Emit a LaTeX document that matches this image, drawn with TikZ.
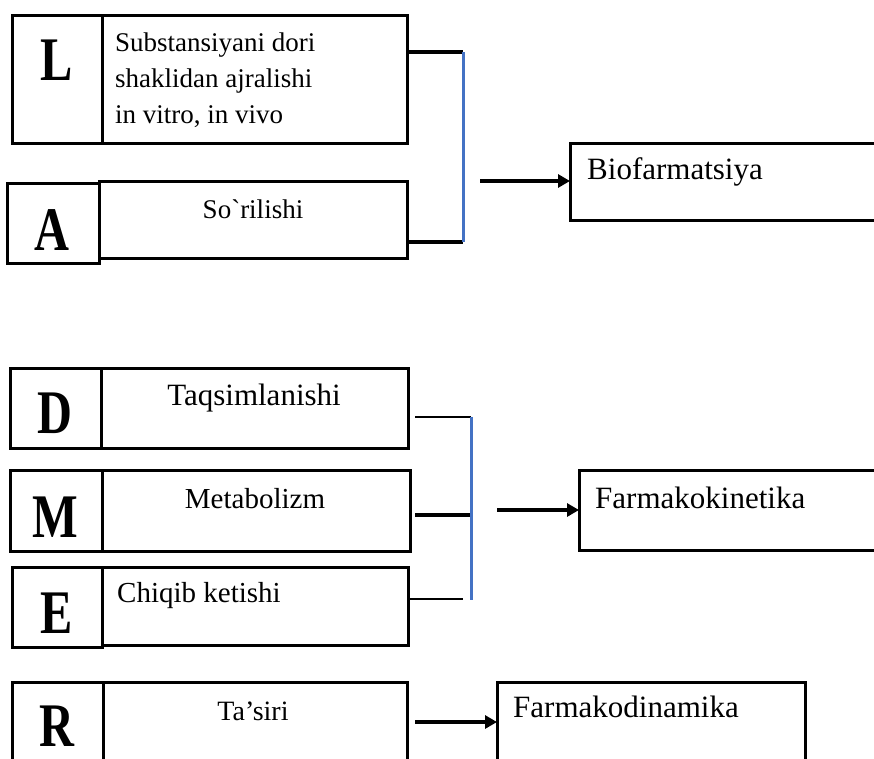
\documentclass[tikz,border=0pt]{standalone}
\usepackage{fontspec}
\usetikzlibrary{arrows.meta}
\newfontfamily\txtfont{Liberation Serif}
\newfontfamily\capfont[FakeStretch=0.78]{Liberation Serif}
\definecolor{linkblue}{RGB}{68,114,196}
\begin{document}
\begin{tikzpicture}[x=1pt,y=-1pt,
  cell/.style={draw=black,line width=3pt,rectangle,anchor=north west,inner sep=0pt,outer sep=0pt},
  bigletter/.style={anchor=base,inner sep=0pt,font=\capfont\bfseries\fontsize{62}{62}\selectfont},
  lbl/.style={inner sep=0pt,font=\txtfont\fontsize{#1}{#1}\selectfont},
  lbl/.default=28,
  heavy/.style={line width=3.4pt},
  light/.style={line width=1.6pt},
  bar/.style={draw=linkblue,line width=3pt},
  arr/.style={line width=3.4pt,-{Triangle[length=12pt,width=13pt]}}]
\clip (0,0) rectangle (874,758);
\fill[white] (0,0) rectangle (874,758);

% --- L / A group -> Biofarmatsiya
\node[cell,minimum width=90,minimum height=128] (Lcap) at (12,15) {};
\node[cell,minimum width=305,minimum height=128] (Ltxt) at (102,15) {};
\node[bigletter] (Lch) at (57,80) {L};
\node[lbl=27,anchor=base west] (Lt1) at (115,51) {Substansiyani dori};
\node[lbl=27,anchor=base west] (Lt2) at (115,87) {shaklidan ajralishi};
\node[lbl=27,anchor=base west] (Lt3) at (115,123) {in vitro, in vivo};

\node[cell,minimum width=92,minimum height=80] (Acap) at (7,183) {};
\node[cell,minimum width=308,minimum height=77] (Atxt) at (99,181) {};
\node[bigletter] (Ach) at (52,250) {A};
\node[lbl=27,anchor=base] (At) at (253,218) {So`rilishi};

\node[cell,minimum width=330,minimum height=77] (Bio) at (570,143) {};
\node[lbl=31,anchor=base west] (Biot) at (587,179) {Biofarmatsiya};

\coordinate (lj) at (463,52);
\coordinate (aj) at (463,242);
\coordinate (bs) at (480,181);
\draw[heavy] (lj -| Ltxt.east) -- (lj);
\draw[heavy] (aj -| Atxt.east) -- (aj);
\draw[bar] (lj) -- (aj);
\draw[arr] (bs) -- (bs -| Bio.west);

% --- D / M / E group -> Farmakokinetika
\node[cell,minimum width=91,minimum height=80] (Dcap) at (10,368) {};
\node[cell,minimum width=307,minimum height=80] (Dtxt) at (101,368) {};
\node[bigletter] (Dch) at (55,433) {D};
\node[lbl=31,anchor=base] (Dt) at (254,405) {Taqsimlanishi};

\node[cell,minimum width=92,minimum height=81] (Mcap) at (10,470) {};
\node[cell,minimum width=308,minimum height=81] (Mtxt) at (102,470) {};
\node[bigletter] (Mch) at (55,537) {M};
\node[lbl=29,anchor=base] (Mt) at (255,508) {Metabolizm};

\node[cell,minimum width=90,minimum height=80] (Ecap) at (12,567) {};
\node[cell,minimum width=306,minimum height=78] (Etxt) at (102,567) {};
\node[bigletter] (Ech) at (57,633) {E};
\node[lbl=29,anchor=base west] (Et) at (117,602) {Chiqib ketishi};

\node[cell,minimum width=321,minimum height=80] (Fk) at (579,470) {};
\node[lbl=31,anchor=base west] (Fkt) at (595,508) {Farmakokinetika};

\coordinate (ds) at (415,417);
\coordinate (dj) at (471,417);
\coordinate (ms) at (415,515);
\coordinate (mj) at (471,515);
\coordinate (ej) at (463,599);
\coordinate (be) at (471,600);
\coordinate (ks) at (497,510);
\draw[light] (ds) -- (dj);
\draw[heavy] (ms) -- (mj);
\draw[light] (ej -| Etxt.east) -- (ej);
\draw[bar] (dj) -- (be);
\draw[arr] (ks) -- (ks -| Fk.west);

% --- R -> Farmakodinamika
\node[cell,minimum width=91,minimum height=108] (Rcap) at (12,682) {};
\node[cell,minimum width=304,minimum height=108] (Rtxt) at (103,682) {};
\node[bigletter] (Rch) at (57,746) {R};
\node[lbl=28,anchor=base] (Rt) at (253,720) {Ta’siri};

\node[cell,minimum width=308,minimum height=108] (Fd) at (497,682) {};
\node[lbl=31,anchor=base west] (Fdt) at (513,717) {Farmakodinamika};

\coordinate (rs) at (415,722);
\draw[arr] (rs) -- (rs -| Fd.west);
\end{tikzpicture}
\end{document}
